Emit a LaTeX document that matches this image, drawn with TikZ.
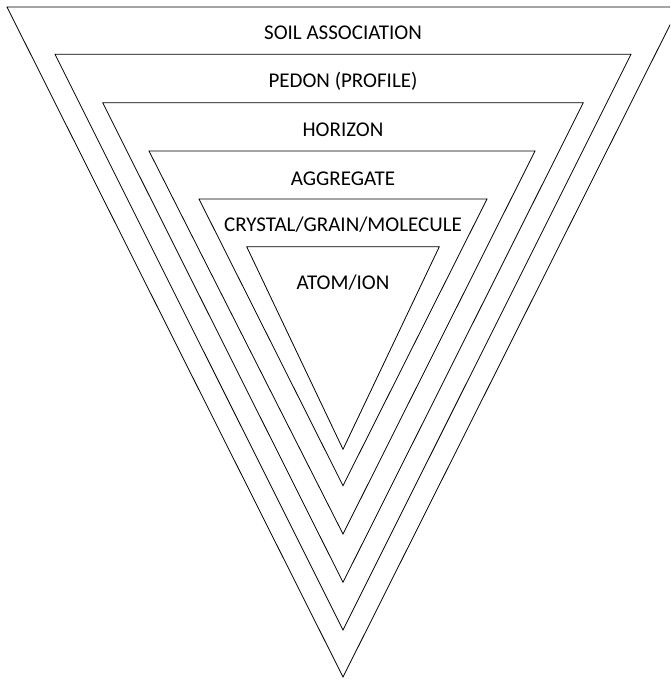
\documentclass[tikz,border=0pt]{standalone}
\usepackage{fontspec}
\setmainfont{Carlito}

\begin{document}
\begin{tikzpicture}[x=1pt, y=-1pt,
  tri/.style={draw=black, line width=0.8pt, line join=miter},
  lbl/.style={font=\fontsize{21}{24}\selectfont, inner sep=0pt}]

% Controls
\def\cx{343}

% #1 name, #2 left x, #3 right x, #4 top y, #5 apex y
\newcommand{\drawLevel}[5]{%
  \coordinate (#1-l) at (#2,#4);
  \coordinate (#1-r) at (#3,#4);
  \coordinate (#1-b) at (\cx,#5);
  \draw[tri] (#1-l) -- (#1-r) -- (#1-b) -- cycle;
}

\useasboundingbox (0,0) rectangle (670,680);
\clip (0,0) rectangle (670,680);

% Nested triangles, outer to inner
\drawLevel{soil}{7}{679}{7}{677}
\drawLevel{pedon}{55}{631}{54.3}{630}
\drawLevel{horizon}{102.7}{583.3}{102.7}{582.3}
\drawLevel{aggr}{149}{535}{151}{534}
\drawLevel{crystal}{199}{487}{199}{485.7}
\drawLevel{atom}{246.7}{439.3}{246.7}{449.3}

% Labels
\node[lbl] (soil-t)    at (\cx,32.5) {SOIL ASSOCIATION};
\node[lbl] (pedon-t)   at (\cx,81.7) {PEDON (PROFILE)};
\node[lbl] (horizon-t) at (\cx,130)  {HORIZON};
\node[lbl] (aggr-t)    at (\cx,178.3) {AGGREGATE};
\node[lbl] (crystal-t) at (\cx,225)  {CRYSTAL/GRAIN/MOLECULE};
\node[lbl] (atom-t)    at (\cx,283)  {ATOM/ION};

\end{tikzpicture}
\end{document}
